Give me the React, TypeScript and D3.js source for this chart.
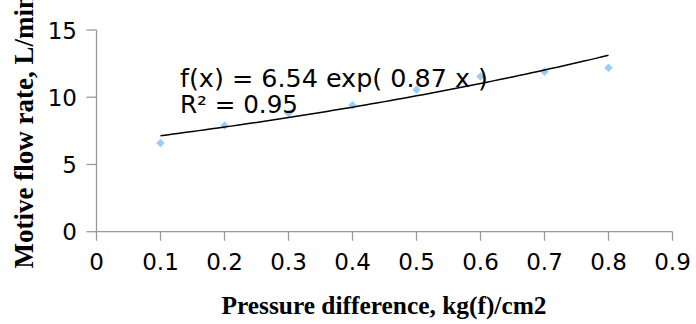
import React from "react";
import * as d3 from "d3";

const pressure = [0.1, 0.2, 0.3, 0.4, 0.5, 0.6, 0.7, 0.8];
const flowRate = [6.6, 7.9, 8.8, 9.4, 10.55, 11.55, 11.9, 12.2];
const xTicks = [0, 0.1, 0.2, 0.3, 0.4, 0.5, 0.6, 0.7, 0.8, 0.9];
const yTicks = [0, 5, 10, 15];
const fitA = 6.54;
const fitB = 0.87;

const W = 696;
const H = 324;

export default function App() {
  const x = d3.scaleLinear().domain([0, 0.9]).range([96.5, 672.5]);
  const y = d3.scaleLinear().domain([0, 15]).range([231.7, 30]);
  const fitXs = d3.range(0.1, 0.8001, 0.01);
  const line = d3
    .line<number>()
    .x((d) => x(d))
    .y((d) => y(fitA * Math.exp(fitB * d)));
  const marker = d3.symbol(d3.symbolSquare, 36)() as string;
  const axisColor = "#999999";
  const sans = "'DejaVu Sans', sans-serif";
  const serif = "'Liberation Serif', 'Times New Roman', serif";

  return (
    <svg
      width={W}
      height={H}
      style={{ position: "absolute", left: 0, top: 0, background: "#fff" }}
    >
      {/* axes */}
      <line x1={x(0)} x2={x(0.9)} y1={y(0)} y2={y(0)} stroke={axisColor} strokeWidth={1.3} />
      <line x1={x(0)} x2={x(0)} y1={y(0)} y2={y(15)} stroke={axisColor} strokeWidth={1.3} />
      {xTicks.map((t) => (
        <g key={"xt" + t}>
          <line x1={x(t)} x2={x(t)} y1={y(0)} y2={y(0) + 9} stroke={axisColor} strokeWidth={1.3} />
          <text x={x(t)} y={270} textAnchor="middle" fontFamily={sans} fontSize={23} fill="#000">
            {String(t)}
          </text>
        </g>
      ))}
      {yTicks.map((t) => (
        <g key={"yt" + t}>
          <line x1={x(0) - 10} x2={x(0)} y1={y(t)} y2={y(t)} stroke={axisColor} strokeWidth={1.3} />
          <text x={77} y={y(t) + 8.5} textAnchor="end" fontFamily={sans} fontSize={23} fill="#000">
            {t}
          </text>
        </g>
      ))}
      {/* data points */}
      {pressure.map((p, i) => (
        <path
          key={"pt" + i}
          d={marker}
          transform={`translate(${x(p)},${y(flowRate[i])}) rotate(45)`}
          fill="#99ccff"
        />
      ))}
      {/* exponential trend line */}
      <path d={line(fitXs) ?? ""} fill="none" stroke="#000" strokeWidth={1.5} />
      <text
        x={180}
        y={86.7}
        fontFamily={sans}
        fontSize={24}
        textLength={308}
        lengthAdjust="spacingAndGlyphs"
        fill="#000"
      >
        f(x) = 6.54 exp( 0.87 x )
      </text>
      <text
        x={180}
        y={113.3}
        fontFamily={sans}
        fontSize={24}
        textLength={118}
        lengthAdjust="spacingAndGlyphs"
        fill="#000"
      >
        R² = 0.95
      </text>
      {/* axis titles */}
      <text
        x={384}
        y={314}
        textAnchor="middle"
        fontFamily={serif}
        fontWeight="bold"
        fontSize={25.4}
        fill="#000"
      >
        Pressure difference, kg(f)/cm2
      </text>
      <text
        transform="translate(33,268.5) rotate(-90)"
        x={0}
        y={0}
        textAnchor="start"
        fontFamily={serif}
        fontWeight="bold"
        fontSize={27}
        fill="#000"
      >
        Motive flow rate, L/min
      </text>
    </svg>
  );
}
